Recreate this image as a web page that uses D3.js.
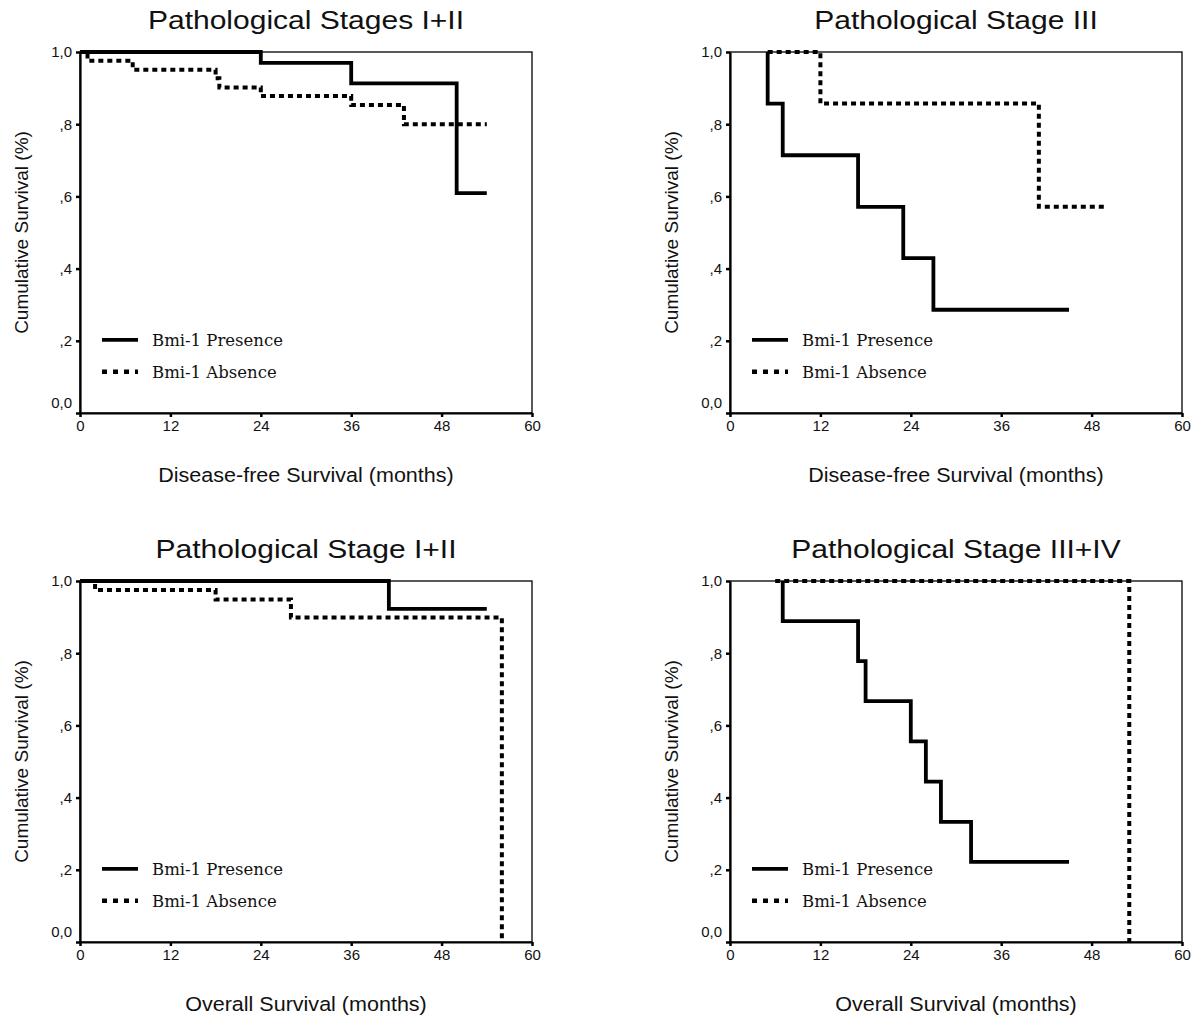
<!DOCTYPE html>
<html>
<head>
<meta charset="utf-8">
<script src="https://cdn.jsdelivr.net/npm/d3@7"></script>
<style>
  html, body { margin: 0; padding: 0; background: #fff; }
  svg { display: block; }
</style>
</head>
<body>
<svg id="chart" width="1200" height="1022"></svg>
<script>
// ---------- data ----------
const panelTitles = ["Pathological Stages I+II", "Pathological Stage III", "Pathological Stage I+II", "Pathological Stage III+IV"];
const xAxisTitles = ["Disease-free Survival (months)", "Disease-free Survival (months)", "Overall Survival (months)", "Overall Survival (months)"];
const yAxisTitle = "Cumulative Survival (%)";
const xTickValues = [0, 12, 24, 36, 48, 60];
const yTickValues = [0, 0.2, 0.4, 0.6, 0.8, 1.0];
const yTickLabels = ["0,0", ",2", ",4", ",6", ",8", "1,0"];
const seriesNames = ["Bmi-1 Presence", "Bmi-1 Absence"];

// step-after survival curves: time (months), cumulative survival
const p1PresenceTime = [0, 24, 36, 50, 54];
const p1PresenceSurv = [1.0, 0.970, 0.913, 0.609, 0.609];
const p1AbsenceTime  = [0, 1, 7, 18, 18.5, 24, 36, 43, 54];
const p1AbsenceSurv  = [1.0, 0.976, 0.951, 0.927, 0.902, 0.878, 0.853, 0.800, 0.800];

const p2PresenceTime = [5, 5, 7, 17, 23, 27, 45];
const p2PresenceSurv = [1.0, 0.857, 0.714, 0.571, 0.429, 0.286, 0.286];
const p2AbsenceTime  = [5, 12, 41, 50];
const p2AbsenceSurv  = [1.0, 0.857, 0.571, 0.571];

const p3PresenceTime = [0, 41, 54];
const p3PresenceSurv = [1.0, 0.923, 0.923];
const p3AbsenceTime  = [0, 2, 18, 28, 56];
const p3AbsenceSurv  = [1.0, 0.975, 0.949, 0.899, 0.0];

const p4PresenceTime = [7, 7, 17, 18, 24, 26, 28, 32, 45];
const p4PresenceSurv = [1.0, 0.889, 0.778, 0.667, 0.556, 0.444, 0.333, 0.222, 0.222];
const p4AbsenceTime  = [6, 53];
const p4AbsenceSurv  = [1.0, 0.0];

const panelSeries = [
  [[p1PresenceTime, p1PresenceSurv], [p1AbsenceTime, p1AbsenceSurv]],
  [[p2PresenceTime, p2PresenceSurv], [p2AbsenceTime, p2AbsenceSurv]],
  [[p3PresenceTime, p3PresenceSurv], [p3AbsenceTime, p3AbsenceSurv]],
  [[p4PresenceTime, p4PresenceSurv], [p4AbsenceTime, p4AbsenceSurv]]
];

// ---------- layout ----------
const plotW = 452, plotH = 361;
const origins = [[80, 52], [730, 52], [80, 581], [730, 581]];

const svg = d3.select("#chart");
const sansFont = "'Liberation Sans', Arial, sans-serif";
const serifFont = "'DejaVu Serif', 'Liberation Serif', serif";
const ink = "#111";

function stretch(sel, factor) {
  sel.each(function () {
    const w = this.getComputedTextLength();
    d3.select(this).attr("textLength", w * factor).attr("lengthAdjust", "spacingAndGlyphs");
  });
}

panelSeries.forEach((series, pi) => {
  const [ox, oy] = origins[pi];
  const g = svg.append("g").attr("transform", `translate(${ox},${oy})`);
  const x = d3.scaleLinear().domain([0, 60]).range([0, plotW]);
  const y = d3.scaleLinear().domain([0, 1]).range([plotH, 0]);

  // frame (top/right thin)
  g.append("rect").attr("x", 0).attr("y", 0).attr("width", plotW).attr("height", plotH)
    .attr("fill", "none").attr("stroke", "#000").attr("stroke-width", 1.3);

  // x axis
  const xAxis = g.append("g").attr("transform", `translate(0,${plotH})`)
    .call(d3.axisBottom(x).tickValues(xTickValues).tickSize(4).tickSizeOuter(0).tickPadding(3));
  xAxis.select(".domain").attr("stroke-width", 2.2);
  xAxis.selectAll(".tick line").attr("stroke-width", 2.5);
  xAxis.selectAll(".tick text").attr("font-family", sansFont).attr("font-size", 15).attr("fill", ink);

  // y axis
  const yAxis = g.append("g")
    .call(d3.axisLeft(y).tickValues(yTickValues).tickSize(4).tickSizeOuter(0).tickPadding(4)
      .tickFormat((d, i) => yTickLabels[i]));
  yAxis.select(".domain").attr("stroke-width", 2.2);
  yAxis.selectAll(".tick line").attr("stroke-width", 2.5);
  yAxis.selectAll(".tick text").attr("font-family", sansFont).attr("font-size", 15).attr("fill", ink)
    .attr("dy", (d) => d === 0 ? "-0.4em" : "0.32em");

  // curves
  const line = d3.line().x(d => x(d[0])).y(d => y(d[1])).curve(d3.curveStepAfter);
  series.forEach(([times, surv], si) => {
    const pts = times.map((t, i) => [t, surv[i]]);
    g.append("path").datum(pts).attr("d", line)
      .attr("fill", "none").attr("stroke", "#000")
      .attr("stroke-width", si === 0 ? 3.8 : 4)
      .attr("stroke-dasharray", si === 0 ? null : "5,4")
      .attr("stroke-linejoin", "miter");
  });

  // legend
  const lg = g.append("g").attr("transform", `translate(0, ${y(0.2)})`);
  seriesNames.forEach((name, si) => {
    const ly = si * 32 - 1;
    lg.append("line").attr("x1", 22).attr("x2", 58).attr("y1", ly).attr("y2", ly)
      .attr("stroke", "#000").attr("stroke-width", si === 0 ? 3.8 : 4.5)
      .attr("stroke-dasharray", si === 0 ? null : "5,6");
    lg.append("text").attr("x", 72).attr("y", ly + 6).text(name)
      .attr("font-family", serifFont).attr("font-size", 16.5).attr("fill", ink);
  });

  // titles
  const t = g.append("text").attr("x", plotW / 2).attr("y", -23).attr("text-anchor", "middle")
    .attr("font-family", sansFont).attr("font-size", 25).attr("fill", ink).text(panelTitles[pi]);
  stretch(t, 1.2);
  const xt = g.append("text").attr("x", plotW / 2).attr("y", plotH + 69).attr("text-anchor", "middle")
    .attr("font-family", sansFont).attr("font-size", 20.5).attr("fill", ink).text(xAxisTitles[pi]);
  stretch(xt, 1.05);
  g.append("text").attr("transform", `translate(-52,${plotH / 2}) rotate(-90)`).attr("text-anchor", "middle")
    .attr("font-family", sansFont).attr("font-size", 19).attr("fill", ink).text(yAxisTitle);
});
</script>
</body>
</html>
